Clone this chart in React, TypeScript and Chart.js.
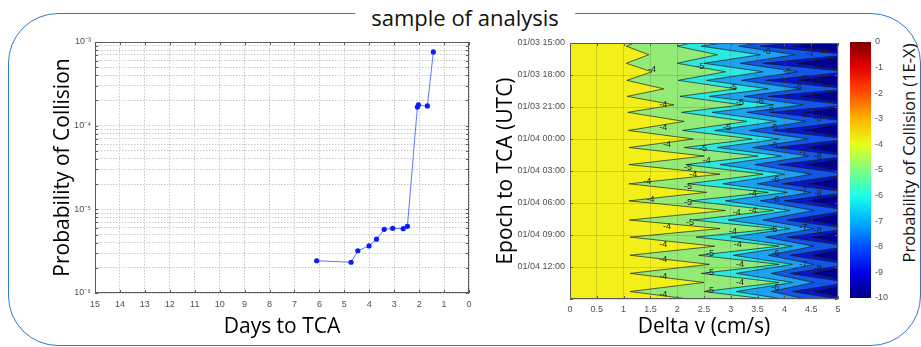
import React, { useEffect, useRef } from 'react';
import { Chart, registerables } from 'chart.js';

Chart.register(...registerables);

// ---------------- Left chart: Probability of Collision vs Days to TCA ----------------
const daysToTca = [6.11, 4.73, 4.46, 4.01, 3.71, 3.4, 3.06, 2.64, 2.47, 2.07, 2.03, 1.67, 1.43];
const probCollision = [2.43e-6, 2.33e-6, 3.2e-6, 3.65e-6, 4.4e-6, 5.77e-6, 5.93e-6, 5.87e-6, 6.26e-6, 1.67e-4, 1.77e-4, 1.72e-4, 7.6e-4];
const logDecades = [1e-6, 1e-5, 1e-4];
const logMultipliers = [1, 2, 3, 4, 5, 6, 7, 8, 9];
const logTickLabels: Record<string, string> = { '-6': '10⁻⁶', '-5': '10⁻⁵', '-4': '10⁻⁴', '-3': '10⁻³' };

// ---------------- Right chart: contour of Pc (1E-X) over Delta v / Epoch ----------------
const epochLabels = ['01/03 15:00', '01/03 18:00', '01/03 21:00', '01/04 00:00', '01/04 03:00', '01/04 06:00', '01/04 09:00', '01/04 12:00'];
// hours after 01/03 15:00 where contour lines reach furthest right / left
const rightTipHours = [-0.5, 1.1, 2.7, 4.3, 5.8, 7.35, 9.0, 10.6, 12.3, 14.0, 15.7, 17.4, 19.05, 20.75, 22.45, 24.15];
const leftTipHours = [0.3, 1.9, 3.5, 5.0, 6.5, 8.2, 9.8, 11.4, 13.2, 14.8, 16.6, 18.2, 19.9, 21.6, 23.3];

// Delta v (cm/s) of each contour level at those hours
const lvl4Left = [1.05, 1.05, 1.06, 1.07, 1.08, 1.09, 1.1, 1.1, 1.1, 1.1, 1.11, 1.12, 1.12, 1.12, 1.12];
const lvl4Right = [1.45, 1.47, 1.53, 1.75, 1.94, 2.13, 2.3, 2.5, 2.8, 2.55, 2.9, 2.8, 2.7, 2.6, 2.5, 2.45];
const lvl5Left = [2.0, 2.0, 2.02, 2.05, 2.08, 2.1, 2.13, 2.16, 2.2, 2.25, 2.3, 2.35, 2.4, 2.45, 2.5];
const lvl5Right = [2.7, 2.75, 2.9, 3.1, 3.2, 3.3, 3.4, 3.5, 3.6, 3.7, 3.8, 3.85, 3.9, 3.9, 3.9, 3.9];
const lvl6Left = [2.45, 2.5, 2.55, 2.6, 2.65, 2.7, 2.75, 2.8, 2.85, 2.9, 2.95, 3.0, 3.05, 3.1, 3.1];
const lvl6Right = [3.5, 3.55, 3.6, 3.7, 3.8, 3.85, 3.9, 3.95, 4.0, 4.05, 4.1, 4.1, 4.15, 4.15, 4.15, 4.15];
const lvl7Left = [3.15, 3.18, 3.2, 3.25, 3.3, 3.35, 3.4, 3.45, 3.5, 3.55, 3.6, 3.65, 3.7, 3.75, 3.75];
const lvl7Right = [4.15, 4.2, 4.25, 4.3, 4.35, 4.4, 4.45, 4.45, 4.5, 4.5, 4.55, 4.55, 4.55, 4.55, 4.55, 4.55];
const lvl8Left = [3.55, 3.6, 3.65, 3.7, 3.75, 3.8, 3.85, 3.9, 3.95, 4.0, 4.05, 4.05, 4.1, 4.1, 4.15];
const lvl8Right = [5.2, 5.2, 5.2, 5.2, 5.2, 5.2, 5.2, 5.2, 5.2, 5.2, 5.2, 5.2, 5.2, 5.2, 5.2, 5.2];
const lvl9Left = [4.15, 4.2, 4.25, 4.3, 4.35, 4.35, 4.4, 4.4, 4.45, 4.45, 4.45, 4.5, 4.5, 4.5, 4.55];
const lvl9Right = [5.4, 5.4, 5.4, 5.4, 5.4, 5.4, 5.4, 5.4, 5.4, 5.4, 5.4, 5.4, 5.4, 5.4, 5.4, 5.4];

const regionColors = ['rgb(242,240,24)', 'rgb(148,234,118)', 'rgb(44,232,222)', 'rgb(28,162,240)', 'rgb(18,86,232)', 'rgb(8,20,200)', 'rgb(0,0,145)'];

// contour labels
const labelText = ['-6', '-7', '-8', '-5', '-4', '-6', '-5', '-6', '-4', '-5', '-6', '-6', '-4', '-5', '-6', '-4', '-5', '-6', '-4', '-5', '-4', '-4', '-5', '-6', '-4', '-4', '-5', '-6', '-4', '-4', '-4', '-5', '-6', '-4', '-4', '-4', '-5', '-6', '-4', '-4', '-5', '-4', '-5', '-4', '-4', '-6', '-7', '-8', '-7', '-8', '-7', '-8', '-7', '-8', '-7', '-8', '-7', '-8'];
const labelDv = [3.67, 4.48, 4.7, 2.43, 1.53, 4.05, 3.04, 4.25, 1.74, 3.17, 3.54, 3.73, 1.74, 2.93, 3.79, 1.81, 2.48, 3.79, 2.55, 2.2, 2.3, 1.44, 2.2, 3.83, 3.41, 1.5, 2.2, 3.83, 3.11, 3.41, 1.81, 2.24, 3.79, 3.04, 1.74, 3.13, 2.61, 3.83, 1.74, 3.17, 2.61, 1.74, 2.61, 3.17, 1.74, 3.83, 4.35, 4.62, 4.35, 4.62, 4.35, 4.62, 4.35, 4.62, 4.35, 4.62, 4.35, 4.62];
const labelHour = [0.84, 0.94, 0.66, 2.25, 2.53, 2.72, 4.13, 4.22, 5.81, 5.6, 5.45, 6.3, 7.9, 7.9, 7.9, 9.5, 9.85, 9.6, 11.0, 11.7, 12.3, 13.0, 13.5, 12.8, 14.1, 14.7, 15.0, 14.7, 15.9, 15.7, 17.25, 16.8, 17.5, 17.7, 18.85, 18.9, 19.7, 19.7, 20.3, 20.8, 21.5, 21.9, 23.2, 22.5, 23.6, 22.9, 3.3, 3.6, 6.8, 7.1, 10.3, 10.6, 13.8, 14.1, 17.3, 17.6, 20.8, 21.1];

// ---------------- Colorbar ----------------
const jetStops = ['rgb(0,0,128)', 'rgb(0,0,230)', 'rgb(0,77,255)', 'rgb(0,179,255)', 'rgb(26,255,230)', 'rgb(128,255,128)', 'rgb(230,255,26)', 'rgb(255,179,0)', 'rgb(255,77,0)', 'rgb(230,0,0)', 'rgb(128,0,0)'];

const TICK_FONT = { family: 'Liberation Sans', size: 9 };
const TITLE_FONT = { family: 'Open Sans', size: 21 };
const TICK_COLOR = '#505050';

const frameBox = {
  id: 'frameBox',
  afterDraw(chart: any, _args: any, opts: any) {
    const { ctx, chartArea: a, scales } = chart;
    ctx.save();
    ctx.strokeStyle = opts.color || '#555';
    ctx.lineWidth = 1;
    ctx.strokeRect(a.left + 0.5, a.top + 0.5, a.width - 1, a.height - 1);
    if (opts.ticks) {
      ctx.beginPath();
      const xs = scales.x;
      xs.ticks.forEach((t: any) => {
        const px = Math.round(xs.getPixelForValue(t.value)) + 0.5;
        ctx.moveTo(px, a.bottom); ctx.lineTo(px, a.bottom - 3);
        ctx.moveTo(px, a.top); ctx.lineTo(px, a.top + 3);
      });
      const ys = scales.y;
      ys.ticks.forEach((t: any) => {
        const py = Math.round(ys.getPixelForValue(t.value)) + 0.5;
        ctx.moveTo(a.left, py); ctx.lineTo(a.left + 3, py);
        ctx.moveTo(a.right, py); ctx.lineTo(a.right - 3, py);
      });
      ctx.stroke();
    }
    ctx.restore();
  },
};

const contourLabels = {
  id: 'contourLabels',
  afterDraw(chart: any) {
    const { ctx, chartArea: a, scales } = chart;
    ctx.save();
    ctx.beginPath();
    ctx.rect(a.left, a.top, a.width, a.height);
    ctx.clip();
    ctx.font = '9px "Liberation Sans"';
    ctx.fillStyle = '#1e1e1e';
    ctx.textAlign = 'center';
    ctx.textBaseline = 'middle';
    labelText.forEach((t, i) => {
      ctx.fillText(t, scales.x.getPixelForValue(labelDv[i]), scales.y.getPixelForValue(labelHour[i]));
    });
    ctx.restore();
  },
};

const buildZigzag = (left: number[], right: number[]) => {
  const pts: { x: number; y: number }[] = [];
  for (let i = 0; i < rightTipHours.length; i++) {
    pts.push({ x: right[i], y: rightTipHours[i] });
    if (i < leftTipHours.length) pts.push({ x: left[i], y: leftTipHours[i] });
  }
  return pts;
};

export default function App() {
  const leftRef = useRef<HTMLCanvasElement>(null);
  const contourRef = useRef<HTMLCanvasElement>(null);
  const barRef = useRef<HTMLCanvasElement>(null);

  useEffect(() => {
    const logTickValues: number[] = [];
    logDecades.forEach((d) => logMultipliers.forEach((m) => logTickValues.push(m * d)));
    logTickValues.push(1e-3);

    const left = new Chart(leftRef.current!, {
      type: 'line',
      data: {
        datasets: [
          {
            data: daysToTca.map((d, i) => ({ x: d, y: probCollision[i] })),
            borderColor: 'rgba(70,95,255,0.85)',
            borderWidth: 1,
            pointRadius: 2.6,
            pointBackgroundColor: '#0a1cff',
            pointBorderColor: '#0a1cff',
            pointBorderWidth: 0,
            tension: 0,
            fill: false,
          },
        ],
      },
      options: {
        animation: false,
        responsive: false,
        events: [],
        layout: { padding: { top: 10, right: 11, bottom: 0, left: 0 } },
        plugins: { legend: { display: false }, tooltip: { enabled: false }, frameBox: { color: '#5a5a5a', ticks: true } } as any,
        scales: {
          x: {
            type: 'linear',
            reverse: true,
            min: 0,
            max: 15,
            afterFit: (s: any) => { s.height = 53; s.paddingLeft = 0; s.paddingRight = 0; },
            ticks: { stepSize: 1, font: TICK_FONT, color: TICK_COLOR, padding: 6, maxRotation: 0, autoSkip: false },
            grid: { color: '#c8c8c8', drawTicks: false, lineWidth: 1 },
            border: { display: false, dash: [1.5, 1.5] },
            title: { display: true, text: 'Days to TCA', font: TITLE_FONT, color: '#000', padding: { top: 0, bottom: 6 } },
          },
          y: {
            type: 'logarithmic',
            min: 1e-6,
            max: 1e-3,
            afterBuildTicks: (s: any) => { s.ticks = logTickValues.map((v) => ({ value: v })); },
            afterFit: (s: any) => { s.width = 57; s.paddingTop = 0; s.paddingBottom = 0; },
            ticks: {
              autoSkip: false,
              font: TICK_FONT,
              color: TICK_COLOR,
              padding: 4,
              callback: (v: any) => {
                const e = Math.log10(Number(v));
                const r = Math.round(e);
                return Math.abs(e - r) < 1e-6 ? logTickLabels[String(r)] : '';
              },
            },
            grid: { color: '#c8c8c8', drawTicks: false, lineWidth: 1 },
            border: { display: false, dash: [1.5, 1.5] },
            title: { display: true, text: 'Probability of Collision', font: TITLE_FONT, color: '#000', padding: { top: 12, bottom: 0 } },
          },
        },
      } as any,
      plugins: [frameBox],
    });

    const levels = [
      [lvl4Left, lvl4Right],
      [lvl5Left, lvl5Right],
      [lvl6Left, lvl6Right],
      [lvl7Left, lvl7Right],
      [lvl8Left, lvl8Right],
      [lvl9Left, lvl9Right],
    ];
    const datasets: any[] = [
      {
        data: [{ x: 0, y: -1 }, { x: 0, y: 25 }],
        fill: { value: 6 },
        backgroundColor: regionColors[0],
        borderWidth: 0,
        pointRadius: 0,
        order: 20,
      },
      ...levels.map(([l, r], i) => ({
        data: buildZigzag(l, r),
        fill: { value: 6 },
        backgroundColor: regionColors[i + 1],
        borderColor: 'rgba(25,25,25,0.85)',
        borderWidth: 0.8,
        pointRadius: 0,
        tension: 0,
        order: 10 - i,
      })),
    ];

    const contour = new Chart(contourRef.current!, {
      type: 'line',
      data: { datasets },
      options: {
        animation: false,
        responsive: false,
        events: [],
        indexAxis: 'y',
        layout: { padding: { top: 11, right: 4, bottom: 0, left: 0 } },
        plugins: { legend: { display: false }, tooltip: { enabled: false }, frameBox: { color: '#5a5a5a', ticks: true } } as any,
        scales: {
          x: {
            type: 'linear',
            min: 0,
            max: 5,
            afterFit: (s: any) => { s.height = 47; s.paddingLeft = 0; s.paddingRight = 0; },
            ticks: { stepSize: 0.5, font: TICK_FONT, color: TICK_COLOR, padding: 5, maxRotation: 0, autoSkip: false, callback: (v: any) => String(+v) },
            grid: { color: 'rgba(80,80,80,0.22)', drawTicks: false, lineWidth: 1, z: 1 },
            border: { display: false },
            title: { display: true, text: 'Delta v (cm/s)', font: TITLE_FONT, color: '#000', padding: { top: 0, bottom: 6 } },
          },
          y: {
            type: 'linear',
            min: 0,
            max: 24,
            reverse: true,
            afterFit: (s: any) => { s.width = 89; s.paddingTop = 0; s.paddingBottom = 0; },
            ticks: {
              stepSize: 3,
              autoSkip: false,
              font: TICK_FONT,
              color: TICK_COLOR,
              padding: 5,
              callback: (v: any) => epochLabels[Math.round(Number(v) / 3)] || '',
            },
            grid: { color: 'rgba(80,80,80,0.22)', drawTicks: false, lineWidth: 1, z: 1 },
            border: { display: false },
            title: { display: true, text: 'Epoch to TCA (UTC)', font: TITLE_FONT, color: '#000', padding: { top: 12, bottom: 0 } },
          },
        },
      } as any,
      plugins: [frameBox, contourLabels],
    });

    const bar = new Chart(barRef.current!, {
      type: 'bar',
      data: {
        labels: ['Pc'],
        datasets: [
          {
            data: [[-10, 0]] as any,
            barPercentage: 1,
            categoryPercentage: 1,
            borderWidth: 0,
            backgroundColor: (ctx: any) => {
              const a = ctx.chart.chartArea;
              if (!a) return jetStops[5];
              const g = ctx.chart.ctx.createLinearGradient(0, a.bottom, 0, a.top);
              jetStops.forEach((c, i) => g.addColorStop(i / (jetStops.length - 1), c));
              return g;
            },
          },
        ],
      },
      options: {
        animation: false,
        responsive: false,
        events: [],
        layout: { padding: { top: 10, right: 0, bottom: 14, left: 5 } },
        plugins: { legend: { display: false }, tooltip: { enabled: false } },
        scales: {
          x: { display: false },
          y: {
            position: 'right',
            min: -10,
            max: 0,
            afterFit: (s: any) => { s.width = 24; s.paddingTop = 0; s.paddingBottom = 0; },
            ticks: { stepSize: 1, font: TICK_FONT, color: TICK_COLOR, padding: 4, callback: (v: any) => String(+v) },
            grid: { display: false, drawTicks: false },
            border: { display: false },
          },
        },
      } as any,
    });

    return () => {
      left.destroy();
      contour.destroy();
      bar.destroy();
    };
  }, []);

  return (
    <div style={{ position: 'absolute', left: 0, top: 0, width: 921, height: 347, background: '#fff', overflow: 'hidden' }}>
      <div
        style={{
          position: 'absolute', left: 8, top: 13, width: 913, height: 333,
          border: '1.6px solid #2b7bd0', borderRadius: 50, boxSizing: 'border-box',
        }}
      />
      <div
        style={{
          position: 'absolute', left: 465, top: 2, transform: 'translateX(-50%)', background: '#fff',
          padding: '0 16px', fontFamily: '"Open Sans"', fontSize: 22, lineHeight: '30px', whiteSpace: 'nowrap', color: '#111',
        }}
      >
        sample of analysis
      </div>
      <canvas ref={leftRef} width={442} height={314} style={{ position: 'absolute', left: 38, top: 32 }} />
      <canvas ref={contourRef} width={361} height={314} style={{ position: 'absolute', left: 481, top: 32 }} />
      <canvas ref={barRef} width={50} height={280} style={{ position: 'absolute', left: 845, top: 32 }} />
      <div
        style={{
          position: 'absolute', left: 908, top: 153, transform: 'translate(-50%,-50%) rotate(-90deg)',
          fontFamily: '"Open Sans"', fontSize: 16.5, whiteSpace: 'nowrap', color: '#111',
        }}
      >
        Probability of Collision (1E-X)
      </div>
    </div>
  );
}
